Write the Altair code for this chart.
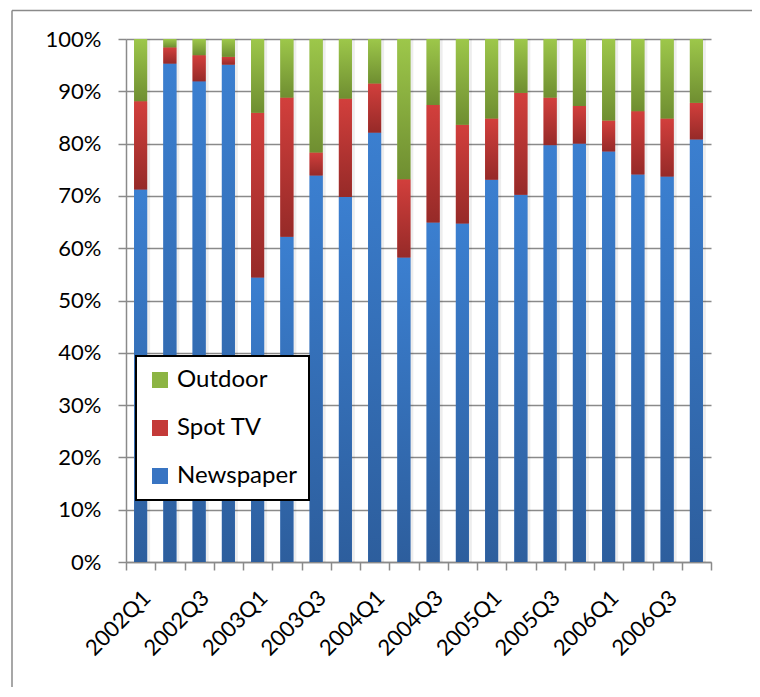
import altair as alt
import pandas as pd

quarters = ["2002Q1", "2002Q2", "2002Q3", "2002Q4",
            "2003Q1", "2003Q2", "2003Q3", "2003Q4",
            "2004Q1", "2004Q2", "2004Q3", "2004Q4",
            "2005Q1", "2005Q2", "2005Q3", "2005Q4",
            "2006Q1", "2006Q2", "2006Q3", "2006Q4"]
newspaper = [71.2, 95.3, 91.9, 95.1, 54.4, 62.2, 73.9, 69.8, 82.1, 58.2,
             64.9, 64.7, 73.1, 70.2, 79.7, 80.0, 78.5, 74.1, 73.7, 80.8]
spot_tv = [16.9, 3.1, 5.0, 1.5, 31.5, 26.6, 4.4, 18.8, 9.4, 15.0,
           22.5, 18.9, 11.7, 19.5, 9.1, 7.2, 5.9, 12.1, 11.1, 7.0]
outdoor = [11.9, 1.6, 3.1, 3.4, 14.1, 11.2, 21.7, 11.4, 8.5, 26.8,
           12.6, 16.4, 15.2, 10.3, 11.2, 12.8, 15.6, 13.8, 15.2, 12.2]

legend_order = ["Outdoor", "Spot TV", "Newspaper"]
solid_colors = ["#8cb443", "#c43a38", "#3874c2"]
gradients = {
    "Newspaper": ("#3b7fd0", "#2d5e9d"),
    "Spot TV": ("#d23f3c", "#962a28"),
    "Outdoor": ("#9dc74a", "#6f8e31"),
}

rows = []
for i, q in enumerate(quarters):
    rows.append({"quarter": q, "series": "Newspaper", "value": newspaper[i], "ord": 0})
    rows.append({"quarter": q, "series": "Spot TV", "value": spot_tv[i], "ord": 1})
    rows.append({"quarter": q, "series": "Outdoor", "value": outdoor[i], "ord": 2})
df = pd.DataFrame(rows)

FONT = "Lato"
GRAY = "#8a8a8a"
W, H = 585, 523

label_expr = ("(substring(datum.value, 5, 6) == '1' || substring(datum.value, 5, 6) == '3') "
              "? datum.value : ''")

x_enc = alt.X("quarter:N", sort=quarters,
              scale=alt.Scale(paddingInner=0, paddingOuter=0),
              axis=alt.Axis(title=None, labelAngle=-45, labelAlign="right",
                            labelBaseline="middle", labelExpr=label_expr,
                            labelOverlap=False, tickBand="extent", tickSize=8,
                            tickColor=GRAY, tickWidth=1.5, domainColor=GRAY,
                            domainWidth=1.5, labelFontSize=22, labelFont=FONT,
                            labelColor="black", labelPadding=24, labelOffset=6,
                            grid=False))
y_enc = alt.Y("y0:Q", scale=alt.Scale(domain=[0, 1], nice=False),
              axis=alt.Axis(title=None, format="%",
                            values=[0, 0.1, 0.2, 0.3, 0.4, 0.5, 0.6, 0.7, 0.8, 0.9, 1.0],
                            tickSize=8, tickColor=GRAY, tickWidth=1.5,
                            domainColor=GRAY, domainWidth=1.5,
                            gridColor=GRAY, gridWidth=1.5,
                            labelFontSize=22, labelFont=FONT, labelColor="black",
                            labelPadding=17))

base = alt.Chart(df).transform_stack(
    stack="value", groupby=["quarter"], sort=[alt.SortField("ord")],
    as_=["y0", "y1"], offset="normalize")

# faint drop shadow to the right of each column
shadow = base.mark_bar(size=13, xOffset=3, color="#000000", opacity=0.07).encode(
    x=x_enc, y=y_enc, y2="y1:Q")

legend_layer = base.mark_bar(size=13).encode(
    x=x_enc, y=y_enc, y2="y1:Q",
    fill=alt.Fill("series:N",
                  scale=alt.Scale(domain=legend_order, range=solid_colors),
                  legend=alt.Legend(title=None, orient="none", legendX=10, legendY=317,
                                    direction="vertical", symbolType="square",
                                    symbolSize=256, symbolStrokeWidth=0,
                                    labelFontSize=24, labelFont=FONT,
                                    labelColor="black", padding=12, rowPadding=24,
                                    labelOffset=5, strokeColor="black",
                                    fillColor="white")))

layers = [shadow, legend_layer]
for name in ["Newspaper", "Spot TV", "Outdoor"]:
    top, bot = gradients[name]
    grad = alt.Gradient(gradient="linear",
                        stops=[alt.GradientStop(offset=0, color=top),
                               alt.GradientStop(offset=1, color=bot)],
                        x1=0, x2=0, y1=0, y2=1)
    layers.append(base.transform_filter(alt.datum.series == name)
                  .mark_bar(size=13, color=grad)
                  .encode(x=x_enc, y=y_enc, y2="y1:Q"))

frame_df = pd.DataFrame({"k": [0]})
frame_left = alt.Chart(frame_df).mark_rule(color=GRAY, strokeWidth=1.5).encode(
    x=alt.value(-114), y=alt.value(-28.5), y2=alt.value(660))
frame_top = alt.Chart(frame_df).mark_rule(color=GRAY, strokeWidth=1.5).encode(
    x=alt.value(-114), x2=alt.value(626), y=alt.value(-28.5))
layers += [frame_left, frame_top]

chart = alt.layer(*layers).properties(
    width=W, height=H,
    padding={"left": 118, "top": 31, "right": 41, "bottom": 125},
    autosize=alt.AutoSizeParams(type="none"),
).configure_view(stroke=None).configure_legend(strokeWidth=2)

chart.save("out.html", embed_options={"renderer": "svg", "actions": False})
